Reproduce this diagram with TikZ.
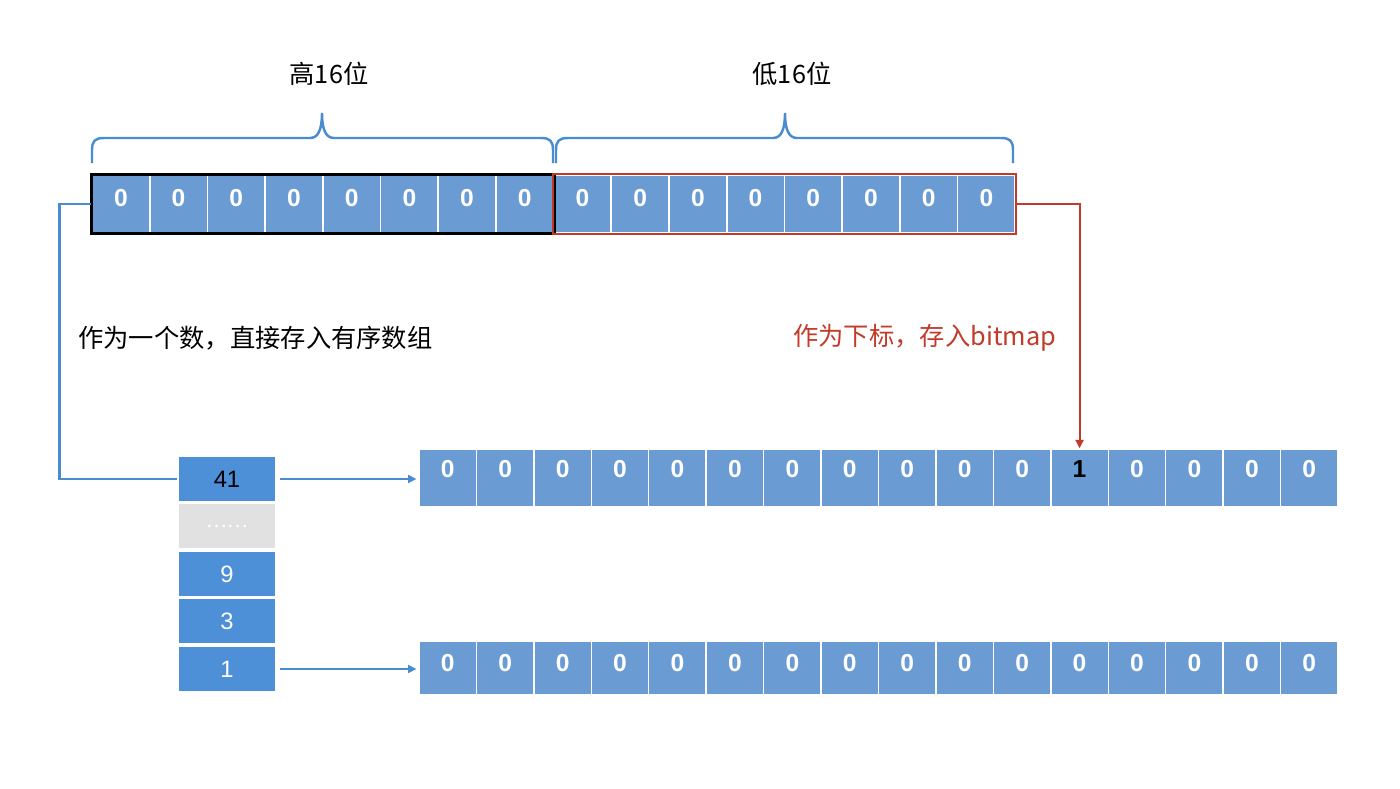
\documentclass[tikz,border=0pt]{standalone}
\usepackage{fontspec}
\setmainfont{Liberation Sans}
\newfontfamily\cjk{Noto Sans CJK SC}
\usetikzlibrary{arrows.meta}

\definecolor{cellblue}{HTML}{6A9BD2}
\definecolor{slotblue}{HTML}{4D90D8}
\definecolor{lineblue}{HTML}{4A8CD0}
\definecolor{linered}{HTML}{C23B2A}
\definecolor{dotgray}{HTML}{E1E1E1}

\tikzset{
  bitcell/.style={draw=white, line width=0.8pt, fill=cellblue, inner sep=0pt,
    minimum width=1.15cm, minimum height=1.16cm, text=white, text height=0.36cm,
    font=\fontsize{14}{14}\selectfont\bfseries},
  slot/.style={draw=white, line width=0.8pt, fill=slotblue, inner sep=0pt,
    minimum width=1.96cm, minimum height=0.92cm, text=white,
    font=\fontsize{13.5}{13.5}\selectfont},
  bluelink/.style={lineblue, line width=1.4pt},
  redlink/.style={linered, line width=1.2pt},
  arrowtip/.style={-{Triangle[length=0.17cm,width=0.16cm]}},
  bracket/.style={lineblue, line width=1.4pt},
  captiontext/.style={inner sep=0pt, font=\cjk\fontsize{14.4}{14.4}\selectfont},
}

\begin{document}
\begin{tikzpicture}[x=0.02cm, y=-0.02cm]
    \useasboundingbox (0,0) rectangle (1400,788);

    % 32-bit value: high / low half
    \foreach \i in {1,...,8} {
      \node[bitcell, text depth=0.28cm] (hi\i) at ({92+57.7*(\i-0.5)},204) {0};
      \node[bitcell, text depth=0.28cm] (lo\i) at ({553.6+57.7*(\i-0.5)},204) {0};
    }
    \draw[black, line width=1.7pt] (hi1.north west) rectangle (hi8.south east);
    \draw[linered, line width=1.2pt] (lo1.north west) rectangle (lo8.south east);

    % braces and titles
    \draw[bracket] (92,163) -- (92,150) .. controls (92,141) and (95,138) .. (104,138)
      -- (310,138) .. controls (318,138) and (322,130) .. (322,113)
      .. controls (322,130) and (326,138) .. (334,138)
      -- (541,138) .. controls (550,138) and (553,141) .. (553,150) -- (553,163);
    \draw[bracket] (556,163) -- (556,150) .. controls (556,141) and (559,138) .. (568,138)
      -- (773,138) .. controls (781,138) and (785,130) .. (785,113)
      .. controls (785,130) and (789,138) .. (797,138)
      -- (1001,138) .. controls (1010,138) and (1013,141) .. (1013,150) -- (1013,163);
    \node[captiontext] (hightitle) at (329,74) {高16位};
    \node[captiontext] (lowtitle) at (792,74) {低16位};

    % notes
    \node[captiontext, anchor=west] (arraynote) at (78,338) {作为一个数，直接存入有序数组};
    \node[captiontext, anchor=west, text=linered] (bitmapnote) at (793,338) {作为下标，存入bitmap};

    % sorted array of high parts
    \node[slot, text=black] (slot41) at (227,479) {41};
    \node[slot, fill=dotgray] (slotdots) at (227,526) {\cjk\fontsize{11}{11}\selectfont ……};
    \node[slot] (slot9) at (227,574) {9};
    \node[slot] (slot3) at (227,621) {3};
    \node[slot] (slot1) at (227,669) {1};

    % bitmaps
    \foreach \i in {1,...,16} {
      \node[bitcell, text depth=0.4cm] (bmA\i) at ({419+57.44*(\i-0.5)},478)
        {\ifnum\i=12 \textcolor{black}{1}\else 0\fi};
      \node[bitcell, minimum height=1.06cm, text depth=0.22cm] (bmB\i)
        at ({419+57.44*(\i-0.5)},668) {0};
    }

    % connectors
    \draw[bluelink] (hi1.west) -- ++(-32,0) |- (slot41.west);
    \draw[redlink, arrowtip] (lo8.east) -| (bmA12.north);
    \draw[bluelink, arrowtip, shorten <=2pt, shorten >=1pt] (slot41.east) -- (slot41.east -| bmA1.west);
    \draw[bluelink, arrowtip, shorten <=2pt, shorten >=1pt] (slot1.east) -- (slot1.east -| bmB1.west);
\end{tikzpicture}
\end{document}
